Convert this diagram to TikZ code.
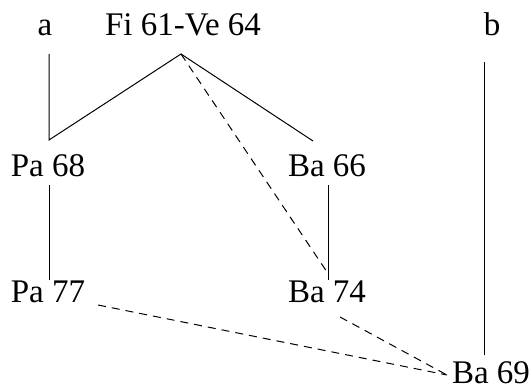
\documentclass[tikz,border=0pt]{standalone}
\usepackage{fontspec}
\setmainfont{Liberation Serif}
\usetikzlibrary{positioning}
\tikzset{
  lab/.style={inner sep=0pt,outer sep=0pt,anchor=base,text height=20pt,text depth=0pt,
    font=\fontsize{33}{38}\selectfont},
  tie/.style={draw=black,line width=1pt},
  guess/.style={draw=black,line width=1pt,dash pattern=on 8pt off 6pt},
}
\begin{document}
\begin{tikzpicture}[x=1pt,y=1pt]
  \useasboundingbox (0,0) rectangle (531,390);
  % top row
  \node[lab] (a)    at (45,354)  {a};
  \node[lab] (FiVe) at (183,354) {Fi 61-Ve 64};
  \node[lab] (b)    at (492,354) {b};
  % middle rows
  \node[lab] (Pa68) at (48,213)  {Pa 68};
  \node[lab] (Ba66) at (327,213) {Ba 66};
  \node[lab] (Pa77) at (48,87)   {Pa 77};
  \node[lab] (Ba74) at (327,87)  {Ba 74};
  \node[lab] (Ba69) at (491,6)   {Ba 69};
  % bends of the solid lines
  \coordinate (knee) at ([xshift=1pt,yshift=17pt]Pa68.north);
  \coordinate (peak) at ([xshift=-2pt,yshift=-18pt]FiVe.south);
  % solid lines
  \draw[tie] ([yshift=-18pt]a.south -| knee) -- (knee) -- (peak)
    -- ([xshift=-14pt,yshift=16pt]Ba66.north);
  \draw[tie] ([xshift=1pt,yshift=-8pt]Pa68.south) -- ([xshift=1pt,yshift=3pt]Pa77.north);
  \draw[tie] ([xshift=1pt,yshift=-8pt]Ba66.south) -- ([xshift=1pt,yshift=3pt]Ba74.north);
  \draw[tie] ([xshift=-8pt,yshift=-26pt]b.south) -- ([xshift=-7pt,yshift=9pt]Ba69.north);
  % dashed lines
  \draw[guess] (peak) -- ([yshift=11pt]Ba74.north);
  \draw[guess] ([xshift=50pt,yshift=-2pt]Pa77.base) -- ([xshift=-44pt,yshift=9pt]Ba69.base);
  \draw[guess] ([xshift=13pt,yshift=-14pt]Ba74.base) -- ([xshift=-44pt,yshift=9pt]Ba69.base);
\end{tikzpicture}
\end{document}
